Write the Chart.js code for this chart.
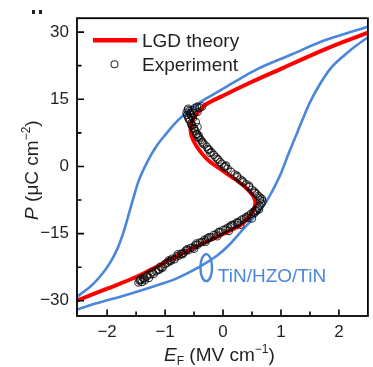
<!DOCTYPE html>
<html><head><meta charset="utf-8">
<script src="https://cdn.jsdelivr.net/npm/chart.js@4/dist/chart.umd.min.js"></script>
<style>html,body{margin:0;padding:0;background:#fff;overflow:hidden;}</style>
</head><body>
<canvas id="c" width="373" height="367" style="width:373px;height:367px;display:block"></canvas>
<script>
// ---- data ----
const xTicks = [-2, -1, 0, 1, 2];
const yTicks = [-30, -15, 0, 15, 30];
const seriesNames = ['LGD theory', 'Experiment', 'TiN/HZO/TiN'];

// blue P-E loop of TiN/HZO/TiN, descending-field branch (right to left)
const blueDownE = [2.55, 2.2, 1.7, 1.2, 0.6, 0.2, -0.1, -0.4, -0.6, -0.8, -1.0, -1.15, -1.3, -1.45, -1.55, -1.64, -1.72, -1.82, -1.94, -2.08, -2.27, -2.55];
const blueDownP = [31.4, 30.0, 27.9, 25.1, 21.8, 18.9, 16.6, 14.3, 12.3, 10.0, 7.0, 4.5, 1.2, -3.0, -7.2, -11.3, -14.8, -18.3, -21.3, -23.9, -26.6, -29.4];
// ascending-field branch (left to right)
const blueUpE = [-2.55, -2.2, -1.7, -1.2, -0.8, -0.4, -0.1, 0.1, 0.3, 0.5, 0.7, 0.85, 1.0, 1.12, 1.25, 1.37, 1.5, 1.65, 1.85, 2.1, 2.3, 2.55];
const blueUpP = [-32.1, -30.6, -28.8, -26.8, -25.0, -22.4, -19.9, -17.6, -14.7, -11.9, -8.8, -5.5, -1.5, 2.5, 6.6, 10.4, 14.3, 17.9, 21.8, 24.9, 27.0, 29.3];

// LGD theory S-curve
const lgdE = [-2.55, -2.0, -1.5, -1.0, -0.5, 0.0, 0.3, 0.43, 0.52, 0.56, 0.52, 0.4, 0.2, 0.0, -0.25, -0.42, -0.52, -0.56, -0.54, -0.47, -0.3, 0.0, 0.5, 1.0, 1.5, 2.0, 2.55];
const lgdP = [-30.1, -27.3, -24.7, -21.4, -18.1, -15.1, -13.1, -11.5, -9.8, -8.1, -6.6, -4.8, -2.8, -1.0, 1.3, 3.8, 6.0, 8.0, 9.8, 11.5, 13.8, 15.8, 18.9, 21.8, 24.7, 27.4, 30.1];

// Experiment (open circles)
const expE = [
 -1.46,-1.43,-1.40,-1.38,-1.35,-1.32,-1.28,-1.25,-1.20,-1.16,-1.12,-1.08,-1.04,-1.00,
 -0.96,-0.92,-0.88,-0.84,-0.80,-0.76,-0.72,-0.68,-0.64,-0.60,-0.56,-0.52,-0.48,-0.44,-0.40,-0.36,
 -0.32,-0.28,-0.24,-0.20,-0.16,-0.12,-0.08,-0.04,0.00,0.04,0.08,0.12,0.16,0.20,0.24,0.28,0.32,0.36,
 0.40,0.44,0.48,0.52,0.56,0.60,0.63,0.66,0.68,0.67,
 0.64,0.61,0.58,0.54,0.50,0.45,0.40,0.35,0.30,0.25,0.20,0.14,0.08,0.03,-0.02,-0.05,-0.10,-0.13,-0.16,-0.20,
 -0.24,-0.28,-0.32,-0.36,-0.38,-0.41,-0.43,-0.45,-0.48,-0.50,-0.53,-0.55,-0.57,-0.59,-0.60,-0.62,-0.63,-0.58,-0.53,-0.49,
 -0.45,-0.40,-0.36,-0.55,-0.50,-0.44,-0.60,-0.52,-0.47,-0.44,
 -1.42,-1.30,-1.10,-0.90,-0.70,-0.50,-0.30,-0.10,0.10,0.30,0.50,0.62,0.64,0.55,0.33,0.02,-0.26,-0.42,-0.50,-0.57,
 -1.44,-1.36,-1.22,-1.06,-0.94,-0.78,-0.62,-0.46,-0.26,-0.06,0.14,0.26,0.42,0.54,0.58,0.45,0.24,0.05,-0.08,-0.22,-0.35,-0.46,-0.54,-0.61];
const expP = [
 -25.9,-25.3,-25.8,-24.9,-25.4,-24.6,-24.9,-24.1,-24.0,-23.4,-23.1,-22.4,-22.5,-21.8,
 -21.5,-21.2,-20.6,-20.7,-20.1,-19.9,-19.5,-19.3,-18.8,-18.7,-18.2,-18.1,-17.6,-17.5,-17.0,-16.9,
 -16.4,-16.3,-15.8,-15.8,-15.3,-15.2,-14.7,-14.7,-14.2,-14.1,-13.7,-13.5,-13.1,-12.9,-12.5,-12.3,-11.9,-11.7,
 -11.3,-11.0,-10.6,-10.2,-9.8,-9.3,-8.8,-8.3,-7.8,-7.2,
 -7.0,-6.6,-6.2,-5.6,-5.2,-4.6,-4.0,-3.5,-2.9,-2.4,-1.8,-1.2,-0.5,0.0,0.6,1.0,1.7,2.1,2.6,3.2,
 3.7,4.4,4.9,5.5,5.9,6.3,6.6,7.2,7.9,8.5,9.1,9.6,10.2,10.6,10.9,11.5,12.0,12.4,12.6,13.0,
 13.3,13.1,13.4,11.4,11.9,12.2,12.9,10.8,9.9,8.8,
 -25.2,-24.3,-23.0,-21.0,-19.6,-18.4,-16.8,-15.6,-14.4,-13.0,-11.6,-9.6,-7.5,-5.9,-3.2,-0.1,3.9,6.9,8.4,11.9,
 -25.5,-25.0,-23.6,-22.7,-21.0,-19.6,-18.5,-17.2,-16.0,-14.6,-13.2,-12.6,-11.5,-10.4,-9.9,-4.3,-2.1,0.2,1.5,3.0,5.2,7.3,9.2,12.6];

// annotation anchor (data units): ellipse marking the blue loop + its label
const loopMarkE = -0.29, loopMarkP = -22.6;
const loopLabelE = -0.09, loopLabelP = -24.6;

// ---- helpers ----
const FONT = "'Liberation Sans', Arial, Helvetica, sans-serif";
const TXT = '#231f20';
const BLUE = '#4a86da';
const RED = '#ff0000';
const pts = (xs, ys) => xs.map((v, i) => ({x: v, y: ys[i]}));
const fmt = v => (v < 0 ? '\u2212' + Math.abs(v) : String(v));

function richText(ctx, parts, x, y, align) {
  // parts: [text, size, italic, dy]
  let w = 0;
  parts.forEach(p => { ctx.font = (p[2] ? 'italic ' : '') + p[1] + 'px ' + FONT; w += ctx.measureText(p[0]).width; });
  let cx = align === 'center' ? x - w / 2 : x;
  ctx.textAlign = 'left';
  ctx.textBaseline = 'alphabetic';
  parts.forEach(p => {
    ctx.font = (p[2] ? 'italic ' : '') + p[1] + 'px ' + FONT;
    ctx.fillText(p[0], cx, y + (p[3] || 0));
    cx += ctx.measureText(p[0]).width;
  });
}

const deco = {
  id: 'deco',
  afterDatasetsDraw(chart) {
    const {ctx, chartArea: a, scales: {x, y}} = chart;
    ctx.save();
    // ellipse + label for the blue loop
    ctx.strokeStyle = BLUE; ctx.lineWidth = 2.4;
    ctx.beginPath();
    ctx.ellipse(x.getPixelForValue(loopMarkE), y.getPixelForValue(loopMarkP), 5.8, 13.5, 0, 0, Math.PI * 2);
    ctx.stroke();
    ctx.fillStyle = BLUE;
    ctx.font = '19px ' + FONT; ctx.textAlign = 'left'; ctx.textBaseline = 'middle';
    ctx.fillText(seriesNames[2], x.getPixelForValue(loopLabelE), y.getPixelForValue(loopLabelP));

    // legend
    const lx = a.left, ly = a.top;
    ctx.strokeStyle = RED; ctx.lineWidth = 4.5; ctx.lineCap = 'butt';
    ctx.beginPath(); ctx.moveTo(lx + 16, ly + 22); ctx.lineTo(lx + 60, ly + 22); ctx.stroke();
    ctx.strokeStyle = 'rgba(0,0,0,0.8)'; ctx.lineWidth = 1.1;
    ctx.beginPath(); ctx.arc(lx + 37.5, ly + 46, 3.5, 0, Math.PI * 2); ctx.stroke();
    ctx.fillStyle = TXT; ctx.font = '19px ' + FONT; ctx.textBaseline = 'alphabetic';
    ctx.fillText(seriesNames[0], lx + 65, ly + 29);
    ctx.fillText(seriesNames[1], lx + 65, ly + 52.5);

    // frame
    ctx.strokeStyle = '#000'; ctx.lineWidth = 1.8;
    ctx.strokeRect(a.left, a.top, a.right - a.left, a.bottom - a.top);
    // inward ticks (left and bottom)
    ctx.lineWidth = 1.6;
    ctx.beginPath();
    for (let v = -2.5; v <= 2.5; v += 0.5) {
      const px = x.getPixelForValue(v);
      if (px < a.left + 2 || px > a.right - 2) continue;
      const len = Number.isInteger(v) ? 6.5 : 4.5;
      ctx.moveTo(px, a.bottom); ctx.lineTo(px, a.bottom - len);
    }
    for (let v = -30; v <= 30; v += 7.5) {
      const py = y.getPixelForValue(v);
      const len = (v % 15 === 0) ? 7 : 4.5;
      ctx.moveTo(a.left, py); ctx.lineTo(a.left + len, py);
    }
    ctx.stroke();

    // axis titles
    ctx.fillStyle = TXT;
    richText(ctx, [['E', 19, true, 0], ['F', 12, false, 4], [' (MV cm', 19, false, 0], ['\u22121', 12, false, -8], [')', 19, false, 0]],
      (a.left + a.right) / 2 - 3, 361, 'center');
    ctx.save();
    ctx.translate(38, (a.top + a.bottom) / 2 + 3);
    ctx.rotate(-Math.PI / 2);
    richText(ctx, [['P', 19, true, 0], [' (\u03bcC cm', 19, false, 0], ['\u22122', 12, false, -8], [')', 19, false, 0]], 0, 0, 'center');
    ctx.restore();

    // remnant of the panel letter at top-left
    ctx.fillStyle = '#222';
    ctx.fillRect(32, 10, 3, 4);
    ctx.fillRect(39, 10, 3, 4);
    ctx.restore();
  }
};

new Chart(document.getElementById('c'), {
  type: 'scatter',
  data: {
    datasets: [
      {label: seriesNames[1], data: pts(expE, expP), showLine: false, pointRadius: 3.7, pointBorderWidth: 1.1,
       pointBorderColor: 'rgba(0,0,0,0.75)', pointBackgroundColor: 'rgba(0,0,0,0)', order: 0},
      {label: seriesNames[0], data: pts(lgdE, lgdP), showLine: true, borderColor: RED, borderWidth: 4,
       pointRadius: 0, tension: 0.3, fill: false, order: 1},
      {label: seriesNames[2] + ' down', data: pts(blueDownE, blueDownP), showLine: true, borderColor: BLUE, borderWidth: 2.6,
       pointRadius: 0, tension: 0.35, fill: false, order: 2},
      {label: seriesNames[2] + ' up', data: pts(blueUpE, blueUpP), showLine: true, borderColor: BLUE, borderWidth: 2.6,
       pointRadius: 0, tension: 0.35, fill: false, order: 3}
    ]
  },
  options: {
    responsive: false, animation: false, devicePixelRatio: 1,
    layout: {padding: {top: 18, right: 2, left: 0, bottom: 0}},
    plugins: {legend: {display: false}, tooltip: {enabled: false}},
    scales: {
      x: {type: 'linear', min: -2.52, max: 2.5,
          afterFit: s => { s.height = 51; },
          afterBuildTicks: s => { s.ticks = xTicks.map(v => ({value: v})); },
          grid: {display: false, drawTicks: false}, border: {display: false},
          ticks: {font: {family: FONT, size: 17}, color: TXT, padding: 6, callback: v => fmt(v)}},
      y: {type: 'linear', min: -33.4, max: 33.1,
          afterFit: s => { s.width = 77; },
          afterBuildTicks: s => { s.ticks = yTicks.map(v => ({value: v})); },
          grid: {display: false, drawTicks: false}, border: {display: false},
          ticks: {font: {family: FONT, size: 17}, color: TXT, padding: 8, callback: v => fmt(v)}}
    }
  },
  plugins: [deco]
});
</script>
</body></html>
